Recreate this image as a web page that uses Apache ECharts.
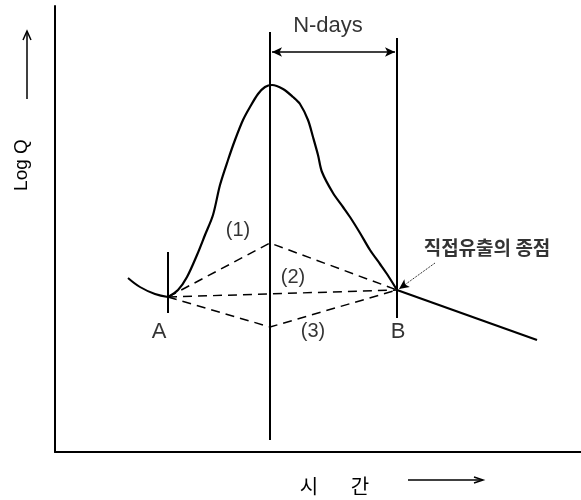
<!DOCTYPE html>
<html>
<head>
<meta charset="utf-8">
<script src="https://cdn.jsdelivr.net/npm/echarts@6/dist/echarts.min.js"></script>
<style>
  html, body { margin: 0; padding: 0; background: #fff; }
  #chart { width: 581px; height: 500px; }
</style>
</head>
<body>
<div id="chart"></div>
<script>
// time (x) vs log Q (y), arbitrary units
const baseBefore = [[73, 174], [85, 165], [100, 158], [113, 155]];
const hydrograph = [
  [113, 155], [123, 162], [132, 175], [142, 197], [150, 217], [158, 237],
  [165, 267], [173, 292], [180, 312], [188, 332], [195, 345], [203, 358],
  [210, 365], [217, 367], [228, 363], [238, 355], [245, 348], [253, 332],
  [258, 315], [263, 297], [267, 280], [278, 259], [288, 245], [295, 235],
  [305, 219], [315, 202], [325, 188], [332, 178], [342, 162]
];
const recession = [[342, 162], [482, 112]];
const sepLine1 = [[113, 155], [215, 209], [342, 162]];
const sepLine2 = [[113, 155], [342, 162]];
const sepLine3 = [[113, 155], [215, 125], [342, 162]];
const peakLine = [[215, 12], [215, 420]];
const endLine = [[342, 134], [342, 414]];
const startTick = [[113, 139], [113, 200]];
const nDaysArrow = [[217, 400], [340, 400]];
const endPointer = [[380, 189], [344, 163]];
const bigLabels = [
  { name: 'N-days', value: [273, 426] },
  { name: 'A', value: [104, 120] },
  { name: 'B', value: [343, 120] }
];
const smallLabels = [
  { name: '(1)', value: [183, 222] },
  { name: '(2)', value: [238, 175] },
  { name: '(3)', value: [258, 121] }
];
const endLabel = [{ name: '직접유출의 종점', value: [432, 204] }];

const chart = echarts.init(document.getElementById('chart'));

const solid = (data, w) => ({
  type: 'line', data: data, showSymbol: false, silent: true,
  lineStyle: { color: '#000', width: w || 2 }
});
const dashed = (data) => ({
  type: 'line', data: data, showSymbol: false, silent: true,
  lineStyle: { color: '#000', width: 1.5, type: [9, 6] }
});
const textSeries = (data, size, weight, family) => ({
  type: 'scatter', data: data, symbolSize: 1, silent: true,
  itemStyle: { color: 'rgba(0,0,0,0)' },
  label: { show: true, position: 'inside', formatter: '{b}', color: '#000',
           fontSize: size, fontWeight: weight, fontFamily: family }
});

chart.setOption({
  animation: false,
  grid: { left: 55, right: 0, top: 6, bottom: 48 },
  xAxis: {
    type: 'value', min: 0, max: 526,
    axisLine: { lineStyle: { color: '#000', width: 2 } },
    axisTick: { show: false }, axisLabel: { show: false }, splitLine: { show: false }
  },
  yAxis: {
    type: 'value', min: 0, max: 446,
    axisLine: { show: true, lineStyle: { color: '#000', width: 2 } },
    axisTick: { show: false }, axisLabel: { show: false }, splitLine: { show: false }
  },
  graphic: [
    { type: 'text', x: 22, y: 165, rotation: Math.PI / 2,
      style: { text: 'Log Q', fill: '#000', font: '19px "Liberation Sans", sans-serif',
               align: 'center', verticalAlign: 'middle' } },
    { type: 'line', shape: { x1: 27, y1: 99, x2: 27, y2: 32 }, style: { stroke: '#000', lineWidth: 1.5 } },
    { type: 'polyline', shape: { points: [[23, 40], [27, 31], [31, 40]] }, style: { stroke: '#000', lineWidth: 1.5, fill: null } },
    { type: 'text', x: 309, y: 486,
      style: { text: '시', fill: '#000', font: '20px "Noto Sans CJK KR", sans-serif',
               align: 'center', verticalAlign: 'middle' } },
    { type: 'text', x: 360, y: 486,
      style: { text: '간', fill: '#000', font: '20px "Noto Sans CJK KR", sans-serif',
               align: 'center', verticalAlign: 'middle' } },
    { type: 'line', shape: { x1: 408, y1: 480, x2: 482, y2: 480 }, style: { stroke: '#000', lineWidth: 1.5 } },
    { type: 'polyline', shape: { points: [[474, 477], [483, 480], [474, 483]] }, style: { stroke: '#000', lineWidth: 1.5, fill: null } }
  ],
  series: [
    Object.assign(solid(baseBefore), { smooth: 0.4 }),
    Object.assign(solid(hydrograph, 2.2), { smooth: 0.3 }),
    solid(recession, 2.2),
    solid(peakLine),
    solid(endLine),
    solid(startTick),
    dashed(sepLine1),
    dashed(sepLine2),
    dashed(sepLine3),
    {
      type: 'line', data: [], silent: true,
      markLine: {
        silent: true, animation: false, label: { show: false },
        symbol: ['arrow', 'arrow'], symbolSize: [7, 10],
        lineStyle: { color: '#000', width: 1.5, type: 'solid' },
        data: [[{ coord: nDaysArrow[0] }, { coord: nDaysArrow[1] }]]
      }
    },
    {
      type: 'line', data: [], silent: true,
      markLine: {
        silent: true, animation: false, label: { show: false },
        symbol: ['none', 'arrow'], symbolSize: [7, 10],
        lineStyle: { color: '#000', width: 1, type: 'dotted' },
        data: [[{ coord: endPointer[0] }, { coord: endPointer[1] }]]
      }
    },
    textSeries(bigLabels, 22, 'normal', '"Liberation Sans", sans-serif'),
    textSeries(smallLabels, 20, 'normal', '"Liberation Sans", sans-serif'),
    textSeries(endLabel, 19, 'bold', '"Noto Sans CJK KR", sans-serif')
  ]
});
</script>
</body>
</html>
